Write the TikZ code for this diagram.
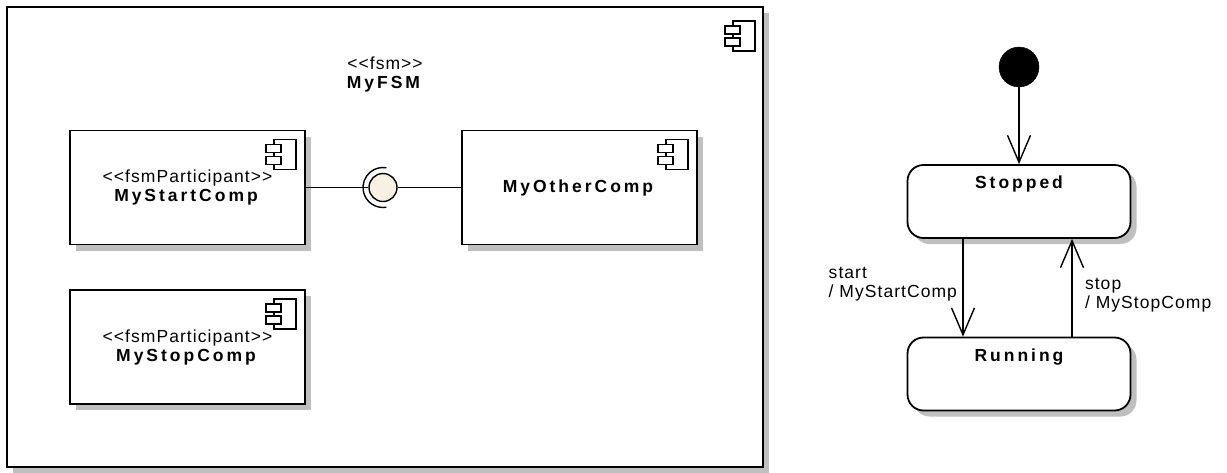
\documentclass[tikz,border=0pt]{standalone}
\usepackage{fontspec}
\usetikzlibrary{shapes,arrows.meta,shadows}
\newfontfamily\eafont{Liberation Sans}[LetterSpace=6, BoldFeatures={LetterSpace=17}]
\definecolor{ballfill}{HTML}{F8F0E2}
\tikzstyle{shade} = [drop shadow={shadow xshift=6pt, shadow yshift=-6pt, fill=black!25, opacity=1}]
\tikzstyle{frame} = [draw, rectangle, line width=1.8pt, fill=white, shade, minimum width=756pt, minimum height=460pt]
\tikzstyle{comp} = [draw, rectangle, line width=1.8pt, fill=white, shade, text centered, align=center, minimum width=235pt, minimum height=114pt]
\tikzstyle{state} = [draw, rectangle, rounded corners=16pt, line width=1.8pt, fill=white, shade, minimum width=223pt, minimum height=73pt, text depth=38pt, font=\eafont\fontsize{17.5}{19}\selectfont\bfseries]
\tikzstyle{initial} = [draw, circle, fill=black, minimum size=40pt, inner sep=0pt]
\tikzstyle{ball} = [draw, circle, fill=ballfill, minimum size=28pt, inner sep=0pt, line width=1.4pt]
\tikzstyle{line} = [draw, line width=1.4pt, -{Straight Barb[length=27pt, width=23pt, line width=1.4pt]}]
\tikzstyle{wire} = [draw, line width=1.4pt]
\newcommand{\compicon}[3]{%
  \begin{scope}[shift={(#1.north east)}, line width=1.4pt]
    \draw[fill=white] (#2-22,#3) rectangle (#2,#3+30);
    \draw[fill=white] (#2-30,#3+5) rectangle (#2-15,#3+13);
    \draw[fill=white] (#2-30,#3+17) rectangle (#2-15,#3+25);
  \end{scope}}

\begin{document}
\begin{tikzpicture}[x=1pt, y=-1pt, font=\eafont\fontsize{17.5}{19}\selectfont]
    \useasboundingbox (0,0) rectangle (1227,472);
    % component side
    \node[frame] (fsm) at (385,237) {};
    \node[above of=fsm, node distance=163pt, align=center] (fsmname) {<<fsm>>\\\textbf{MyFSM}};
    \node[comp] (startcomp) at (187.5,187.5) {<<fsmParticipant>>\\\textbf{MyStartComp}};
    \node[comp, right of=startcomp, node distance=392pt] (othercomp) {\textbf{MyOtherComp}};
    \node[comp, below of=startcomp, node distance=159.5pt] (stopcomp) {<<fsmParticipant>>\\\textbf{MyStopComp}};
    \node[ball, right of=startcomp, node distance=195.5pt] (ball) {};
    \path[wire] (startcomp.east) -- (ball.west);
    \path[wire] (ball.east) -- (othercomp.west);
    \draw[line width=1.4pt] (ball.center) ++(80:20) arc[start angle=80, end angle=280, radius=20];
    \compicon{fsm}{-9}{15}
    \compicon{startcomp}{-10}{10}
    \compicon{othercomp}{-10}{10}
    \compicon{stopcomp}{-10}{10}
    % state machine
    \node[initial] (init) at (1019,67) {};
    \node[state, below of=init, node distance=134.5pt] (stopped) {Stopped};
    \node[state, below of=stopped, node distance=172.5pt] (running) {Running};
    \path[line] (init) -- (stopped);
    \path[line] ([xshift=-56pt]stopped.south) -- node[left, align=left, pos=0.46, xshift=-2pt] {start\\/ MyStartComp} ([xshift=-56pt]running.north);
    \path[line] ([xshift=53pt]running.north) -- node[right, align=left, pos=0.42, xshift=9pt] {stop\\/ MyStopComp} ([xshift=53pt]stopped.south);
\end{tikzpicture}
\end{document}
